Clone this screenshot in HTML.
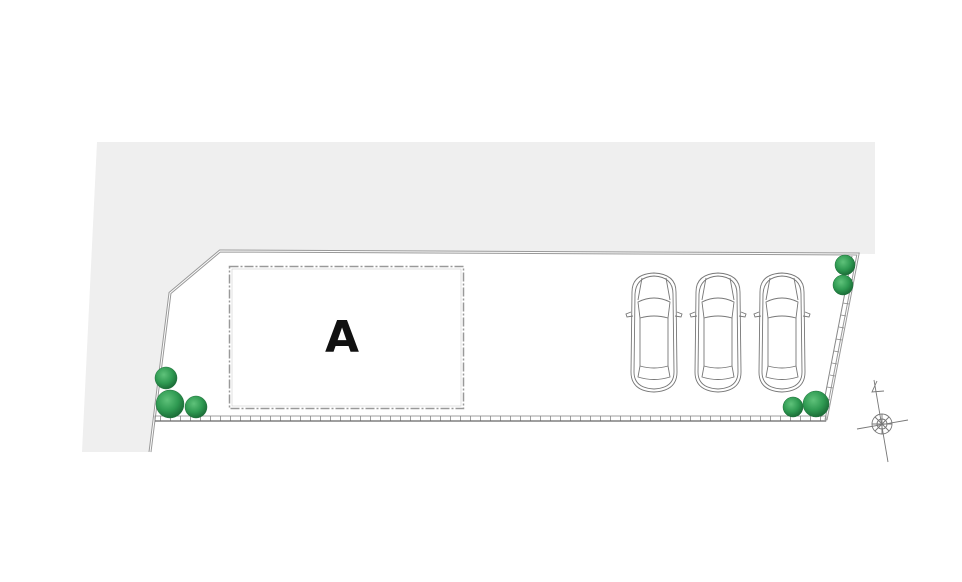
<!DOCTYPE html>
<html><head><meta charset="utf-8"><style>
html,body{margin:0;padding:0;background:#fff;width:962px;height:582px;overflow:hidden}
svg{display:block}
</style></head><body>
<svg width="962" height="582" viewBox="0 0 962 582" xmlns="http://www.w3.org/2000/svg">
<defs>
<radialGradient id="tg" cx="40%" cy="35%" r="65%">
<stop offset="0" stop-color="#5fc27a"/><stop offset="0.6" stop-color="#2f9a52"/><stop offset="1" stop-color="#1c6e38"/>
</radialGradient>
<pattern id="tick" x="0" y="0" width="10" height="6" patternUnits="userSpaceOnUse">
<line x1="0.5" y1="0" x2="0.5" y2="6" stroke="#888" stroke-width="0.8"/>
</pattern>
<g id="car" fill="none" stroke="#777" stroke-width="0.9">
<path d="M6,20 Q6,2 28,1 Q50,2 50,20 L51,100 Q51,119 28,120 Q5,119 5,100 Z"/>
<path d="M9,22 Q10,5 28,4 Q47,5 47,22 L48,100 Q48,116 28,117 Q8,116 8,100 Z"/>
<path d="M12,30 Q28,22 44,30 L42,46 Q28,42 14,46 Z"/>
<path d="M14,46 L14,94 Q28,98 42,94 L42,46"/>
<path d="M14,94 L12,105 Q28,110 44,105 L42,94"/>
<path d="M16,6 L12,28 M40,6 L44,28"/>
<path d="M5,40 L0,42 L1,45 L7,44 M51,40 L56,42 L55,45 L49,44"/>
</g>
</defs>
<polygon points="97,142 875,142 875,254 220,251 170,293 150,452 82,452" fill="#efefef"/>
<polygon points="220,251 858,254 826,420 155,420 170,293" fill="#fff"/>
<polyline points="150,452 170,293 220,251 858,254 826,420" fill="none" stroke="#999" stroke-width="3"/>
<polyline points="150,452 170,293 220,251 858,254 826,420" fill="none" stroke="#fff" stroke-width="1"/>
<line x1="852" y1="256" x2="821" y2="417" stroke="#888" stroke-width="1"/>
<g stroke="#888" stroke-width="0.7">
<line x1="850" y1="267" x2="855" y2="268"/><line x1="848" y1="279" x2="853" y2="280"/><line x1="845" y1="291" x2="851" y2="292"/><line x1="843" y1="303" x2="849" y2="304"/><line x1="841" y1="315" x2="846" y2="316"/><line x1="839" y1="327" x2="844" y2="328"/><line x1="836" y1="339" x2="842" y2="340"/><line x1="834" y1="351" x2="839" y2="352"/><line x1="832" y1="363" x2="837" y2="364"/><line x1="830" y1="375" x2="835" y2="376"/><line x1="827" y1="387" x2="833" y2="388"/><line x1="825" y1="399" x2="830" y2="400"/>
</g>
<rect x="155" y="416" width="671" height="5" fill="url(#tick)" stroke="#888" stroke-width="0.8"/>
<line x1="155" y1="421" x2="826" y2="421" stroke="#666" stroke-width="1.2"/>
<rect x="229.5" y="266.5" width="234" height="142" fill="none" stroke="#999" stroke-width="1.5" stroke-dasharray="9,2,2,2"/>
<rect x="232" y="269" width="229" height="137" fill="none" stroke="#ccc" stroke-width="0.6"/>
<text x="342" y="352" text-anchor="middle" font-family="DejaVu Sans, Liberation Sans, sans-serif" font-size="44" font-weight="bold" fill="#111">A</text>
<use href="#car" x="626" y="272"/>
<use href="#car" x="690" y="272"/>
<use href="#car" x="754" y="272"/>
<g stroke="#1c6e38" stroke-width="0.5">
<circle cx="166" cy="378" r="11" fill="url(#tg)"/>
<circle cx="170" cy="404" r="14" fill="url(#tg)"/>
<circle cx="196" cy="407" r="11" fill="url(#tg)"/>
<circle cx="845" cy="265" r="10" fill="url(#tg)"/>
<circle cx="843" cy="285" r="10" fill="url(#tg)"/>
<circle cx="793" cy="407" r="10" fill="url(#tg)"/>
<circle cx="816" cy="404" r="13" fill="url(#tg)"/>
</g>
<g fill="none" stroke="#777" stroke-width="0.9">
<line x1="874" y1="380" x2="888" y2="462"/>
<line x1="857" y1="429" x2="908" y2="420"/>
<polyline points="877,381 872,392 884,391"/>
<circle cx="882" cy="424" r="10"/>
<circle cx="882" cy="424" r="5"/>
<path d="M882,414 L882,434 M872,424 L892,424 M875,417 L889,431 M889,417 L875,431"/>
</g>
</svg>
</body></html>
